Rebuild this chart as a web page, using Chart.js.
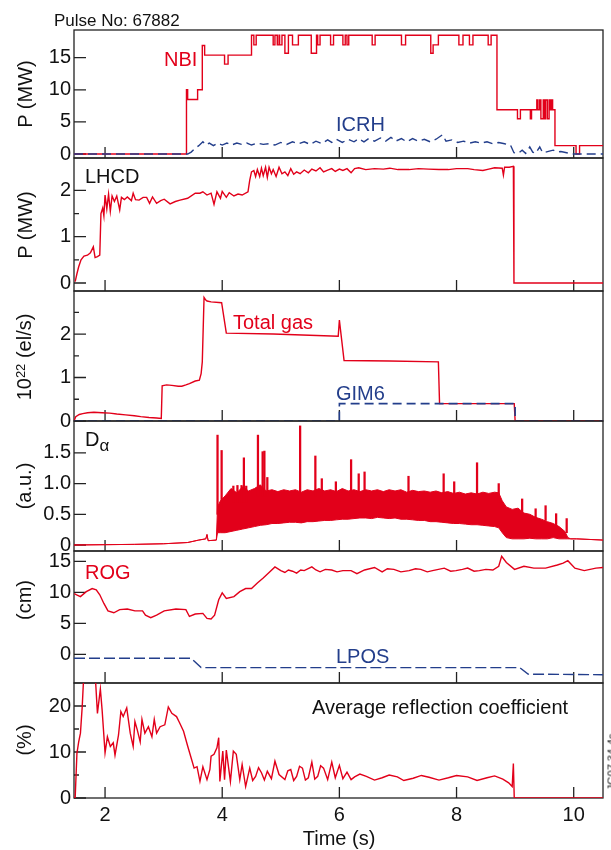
<!DOCTYPE html>
<html lang="en">
<head>
<meta charset="UTF-8">
<title>Pulse No: 67882</title>
<script src="https://cdn.jsdelivr.net/npm/chart.js"></script>
<style>
  html, body { margin: 0; padding: 0; background: #fff; overflow: hidden; }
  #page { position: relative; width: 611px; height: 850px; overflow: hidden;
          font-family: "Liberation Sans", Arial, sans-serif; color: #111; }
  .panel { position: absolute; left: 0; width: 611px; }
  .lbl { position: absolute; font-size: 20px; line-height: 20px; white-space: nowrap; }
  .red { color: #e2001a; }
  .blue { color: #233e8b; }
  .ytitle { position: absolute; font-size: 20px; line-height: 20px; white-space: nowrap;
            transform: translate(-50%, -50%) rotate(-90deg); }
  sup { font-size: 0.65em; vertical-align: 0.5em; line-height: 0; }
  sub { font-size: 0.85em; vertical-align: -0.3em; line-height: 0; }
</style>
</head>
<body>
<div id="page">
  <div class="panel" style="top:16px"><canvas id="c1" width="611" height="156"></canvas></div>
  <div class="panel" style="top:144px"><canvas id="c2" width="611" height="161"></canvas></div>
  <div class="panel" style="top:277px"><canvas id="c3" width="611" height="158"></canvas></div>
  <div class="panel" style="top:407px"><canvas id="c4" width="611" height="158"></canvas></div>
  <div class="panel" style="top:537px"><canvas id="c5" width="611" height="160"></canvas></div>
  <div class="panel" style="top:669px"><canvas id="c6" width="611" height="181"></canvas></div>

  <div class="lbl" style="left:54px; top:12px; font-size:17px; line-height:17px">Pulse No: 67882</div>
  <div class="lbl red" style="left:164px; top:49px">NBI</div>
  <div class="lbl blue" style="left:336px; top:114px">ICRH</div>
  <div class="lbl" style="left:85px; top:166px">LHCD</div>
  <div class="lbl red" style="left:233px; top:312px">Total gas</div>
  <div class="lbl blue" style="left:336px; top:383px">GIM6</div>
  <div class="lbl" style="left:85px; top:429px">D<sub>α</sub></div>
  <div class="lbl red" style="left:85px; top:562px">ROG</div>
  <div class="lbl blue" style="left:336px; top:646px">LPOS</div>
  <div class="lbl" style="left:312px; top:697px">Average reflection coefficient</div>
  <div class="lbl" style="left:339px; top:828px; transform:translateX(-50%)">Time (s)</div>

  <div class="ytitle" style="left:25px; top:94px">P (MW)</div>
  <div class="ytitle" style="left:25px; top:225px">P (MW)</div>
  <div class="ytitle" style="left:24px; top:357px">10<sup>22</sup> (el/s)</div>
  <div class="ytitle" style="left:24px; top:486px">(a.u.)</div>
  <div class="ytitle" style="left:24px; top:600px">(cm)</div>
  <div class="ytitle" style="left:24px; top:740px">(%)</div>
  <div class="ytitle" style="left:612px; top:762px; font-size:11px; line-height:11px">JG07.34-4c</div>
</div>

<script>
  // time axis (s)
  const xMin = 1.47, xMax = 10.5;
  const xTicks = [2, 4, 6, 8, 10];

  // panel 1: heating power (MW)
  const nbi = [[1.47,0],[3.39,10],[3.41,8.5],[3.58,10],[3.66,16.9],[3.70,15.4],[4.04,14.0],[4.10,15.4],
    [4.50,18.5],[4.54,17.0],[4.58,18.5],[4.87,17.0],[4.90,18.5],[4.94,17.0],[4.97,18.5],[4.98,17.0],
    [5.02,18.5],[5.07,15.7],[5.13,18.5],[5.20,17.0],[5.30,18.5],[5.52,15.7],[5.61,18.5],[5.63,17.0],
    [5.67,18.5],[5.85,17.0],[5.90,18.5],[6.06,17.0],[6.10,18.5],[6.13,17.0],[6.16,18.5],[6.56,17.0],
    [6.61,18.5],[7.06,17.0],[7.13,18.5],[7.56,15.7],[7.60,17.0],[7.69,18.5],[8.04,17.0],[8.11,18.5],
    [8.22,17.0],[8.28,18.5],[8.54,17.0],[8.59,18.5],[8.69,6.9],[9.04,5.5],[9.09,6.9],[9.26,5.5],
    [9.28,6.9],[9.37,8.4],[9.39,6.9],[9.42,8.4],[9.44,5.5],[9.48,8.4],[9.50,5.5],[9.52,8.4],[9.55,5.5],
    [9.58,8.4],[9.60,6.9],[9.62,8.4],[9.64,6.9],[9.68,1.3],[10.04,0],[10.10,1.3],[10.5,1.3]];
  const icrh = [[1.47,0],[3.41,0],[3.47,0.3],[3.54,0.9],[3.60,1.3],[3.67,1.9],[3.72,1.4],[3.78,1.7],
    [3.85,1.3],[3.92,1.7],[4.0,1.4],[4.08,1.7],[4.16,1.4],[4.25,1.7],[4.33,1.5],[4.42,1.7],[4.5,1.4],
    [4.6,1.7],[4.7,1.5],[4.8,1.6],[4.9,1.4],[5.0,1.8],[5.1,1.5],[5.2,1.9],[5.3,1.6],[5.4,1.9],[5.5,1.5],
    [5.6,2.0],[5.7,1.6],[5.8,2.2],[5.87,1.8],[5.95,2.3],[6.05,1.8],[6.15,2.3],[6.25,1.9],[6.33,2.4],
    [6.42,1.9],[6.5,2.4],[6.6,2.0],[6.7,2.5],[6.79,2.0],[6.88,2.6],[6.96,2.0],[7.06,2.4],[7.15,1.9],
    [7.25,2.4],[7.35,2.0],[7.45,2.3],[7.55,1.9],[7.65,2.3],[7.76,3.0],[7.82,2.0],[7.92,2.2],[8.02,1.8],
    [8.12,2.0],[8.22,1.7],[8.32,1.9],[8.42,1.7],[8.52,1.9],[8.62,1.6],[8.72,1.8],[8.82,1.6],[8.92,1.4],
    [8.98,0.2],[9.05,0.1],[9.12,0.6],[9.18,0.1],[9.25,1.1],[9.30,0.3],[9.35,0.1],[9.42,1.1],[9.47,0.2],
    [9.52,0.3],[9.6,0.5],[9.65,0.6],[9.72,0.3],[9.78,0.4],[9.88,0.2],[9.98,0.0],[10.5,0.0]];
  const p1TickVals = [0, 5, 10, 15];
  const p1TickText = ['0', '5', '10', '15'];

  // panel 2: LHCD power (MW)
  const lhcd = [[1.49,0.03],[1.52,0.2],[1.55,0.35],[1.59,0.5],[1.64,0.58],[1.70,0.6],[1.75,0.65],
    [1.80,0.78],[1.83,0.55],[1.87,0.57],[1.91,0.6],[1.93,1.5],[1.96,1.62],[1.98,1.45],[2.0,1.9],
    [2.03,1.6],[2.06,1.92],[2.09,1.55],[2.12,1.88],[2.16,1.76],[2.2,1.88],[2.25,1.58],[2.28,1.85],
    [2.33,1.8],[2.38,1.86],[2.45,1.78],[2.48,1.94],[2.52,1.8],[2.58,1.79],[2.65,1.85],[2.71,1.85],
    [2.76,1.72],[2.81,1.86],[2.88,1.72],[2.95,1.78],[3.01,1.81],[3.11,1.71],[3.2,1.76],[3.28,1.79],
    [3.41,1.83],[3.54,1.94],[3.62,1.94],[3.67,1.97],[3.74,1.9],[3.81,1.94],[3.86,1.70],[3.91,1.97],
    [3.97,1.83],[4.0,1.98],[4.07,1.85],[4.12,1.95],[4.2,1.88],[4.27,1.92],[4.34,1.9],[4.44,1.97],
    [4.47,2.22],[4.50,2.40],[4.54,2.43],[4.57,2.3],[4.60,2.45],[4.64,2.3],[4.67,2.48],[4.70,2.32],
    [4.74,2.5],[4.77,2.28],[4.80,2.5],[4.84,2.36],[4.87,2.45],[4.92,2.3],[4.97,2.5],[5.02,2.36],
    [5.07,2.4],[5.12,2.32],[5.17,2.47],[5.22,2.35],[5.27,2.4],[5.33,2.36],[5.40,2.44],[5.47,2.38],
    [5.53,2.46],[5.60,2.42],[5.67,2.49],[5.73,2.4],[5.80,2.44],[5.87,2.47],[5.93,2.41],[6.0,2.46],
    [6.06,2.43],[6.13,2.47],[6.2,2.38],[6.26,2.47],[6.33,2.49],[6.45,2.45],[6.6,2.47],[6.75,2.46],
    [6.86,2.48],[7.0,2.45],[7.19,2.45],[7.35,2.47],[7.52,2.46],[7.7,2.45],[7.86,2.45],[8.0,2.47],
    [8.19,2.47],[8.3,2.45],[8.45,2.43],[8.55,2.46],[8.65,2.49],[8.78,2.48],[8.80,2.33],[8.82,2.5],
    [8.9,2.5],[8.97,2.52],[8.98,0],[10.5,0]];
  const p2TickVals = [0, 0.5, 1, 1.5, 2];
  const p2TickText = ['0', '', '1', '', '2'];

  // panel 3: gas injection (10^22 el/s)
  const totalGas = [[1.47,0],[1.5,0.1],[1.56,0.15],[1.62,0.17],[1.7,0.19],[1.81,0.2],[1.95,0.19],
    [2.08,0.18],[2.2,0.16],[2.35,0.14],[2.5,0.12],[2.61,0.1],[2.75,0.08],[2.88,0.07],[2.96,0.06],
    [2.975,0.81],[3.05,0.83],[3.14,0.82],[3.25,0.8],[3.31,0.8],[3.38,0.83],[3.44,0.86],[3.54,0.92],
    [3.61,0.94],[3.64,1.09],[3.66,1.36],[3.69,2.84],[3.72,2.78],[3.74,2.76],[3.81,2.74],[3.99,2.72],
    [4.07,2.02],[4.87,2.0],[5.98,1.95],[6.0,2.32],[6.08,1.39],[6.86,1.38],[7.69,1.36],[7.71,0.40],
    [8.985,0.40],[9.0,0],[10.5,0]];
  const gim6 = [[1.47,0],[6.0,0],[6.0,0.4],[9.0,0.4],[9.0,0],[10.5,0]];
  const p3TickVals = [0, 0.5, 1, 1.5, 2, 2.5];
  const p3TickText = ['0', '', '1', '', '2', ''];

  // panel 4: D-alpha (a.u.), band as [t, low, high] plus ELM spikes [t, base, peak]
  const daBand = [[1.47,0,0],[2.0,0.005,0.005],[2.5,0.01,0.01],[3.0,0.02,0.02],[3.41,0.04,0.04],
    [3.6,0.08,0.08],[3.72,0.1,0.1],[3.74,0.17,0.17],[3.76,0.07,0.07],[3.9,0.08,0.08],
    [3.92,0.2,0.62],[3.97,0.2,0.72],[4.05,0.2,0.80],[4.15,0.22,0.92],[4.25,0.24,0.85],[4.35,0.26,0.95],
    [4.45,0.28,0.88],[4.55,0.3,0.92],[4.65,0.32,0.98],[4.75,0.33,0.88],[4.85,0.35,0.9],[4.95,0.35,0.87],
    [5.05,0.36,0.9],[5.15,0.37,0.88],[5.25,0.37,0.9],[5.35,0.36,0.86],[5.45,0.38,0.9],[5.55,0.38,0.88],
    [5.65,0.39,0.92],[5.75,0.4,0.88],[5.85,0.4,0.9],[5.95,0.41,0.87],[6.05,0.42,0.92],[6.15,0.42,0.88],
    [6.25,0.43,0.9],[6.35,0.44,0.87],[6.45,0.44,0.9],[6.55,0.43,0.88],[6.65,0.45,0.9],[6.75,0.44,0.87],
    [6.85,0.43,0.9],[6.95,0.44,0.88],[7.05,0.42,0.9],[7.15,0.42,0.86],[7.25,0.41,0.89],[7.35,0.4,0.87],
    [7.45,0.4,0.88],[7.55,0.38,0.86],[7.65,0.38,0.88],[7.75,0.37,0.85],[7.85,0.36,0.87],[7.95,0.35,0.84],
    [8.05,0.35,0.86],[8.15,0.34,0.83],[8.25,0.33,0.85],[8.35,0.33,0.83],[8.45,0.32,0.86],[8.55,0.31,0.84],
    [8.65,0.3,0.86],[8.72,0.28,0.85],[8.78,0.2,0.72],[8.85,0.12,0.62],[8.95,0.1,0.58],[9.05,0.1,0.6],
    [9.15,0.1,0.52],[9.25,0.11,0.5],[9.35,0.1,0.45],[9.45,0.1,0.42],[9.55,0.1,0.38],[9.65,0.12,0.35],
    [9.75,0.1,0.3],[9.85,0.1,0.22],[9.90,0.1,0.12],[9.95,0.1,0.1],[10.05,0.1,0.1],[10.5,0.08,0.08]];
  const daSpikes = [[3.92,0.5,1.79],[3.99,0.6,1.54],[4.19,0.7,0.96],[4.26,0.7,0.97],[4.33,0.7,0.97],
    [4.37,0.7,1.42],[4.41,0.7,0.96],[4.61,0.8,1.79],[4.69,0.8,1.52],[4.72,0.8,1.53],[4.77,0.8,1.10],
    [5.33,0.8,1.94],[5.59,0.8,1.45],[5.70,0.8,1.08],[5.94,0.8,1.03],[6.20,0.8,1.39],[6.33,0.8,1.16],
    [6.43,0.8,1.19],[7.18,0.8,1.12],[7.78,0.8,1.16],[7.96,0.8,1.03],[8.35,0.8,1.34],[8.72,0.7,1.0],
    [9.12,0.5,0.75],[9.35,0.4,0.59],[9.52,0.4,0.64],[9.70,0.3,0.51],[9.88,0.2,0.43]];
  const p4TickVals = [0, 0.5, 1, 1.5];
  const p4TickText = ['0', '0.5', '1.0', '1.5'];

  // panel 5: plasma-wall gaps (cm)
  const rog = [[1.475,9.8],[1.515,9.6],[1.58,9.3],[1.68,10.1],[1.78,10.6],[1.85,10.4],[1.91,9.6],
    [1.98,8.2],[2.05,7.0],[2.15,6.7],[2.25,7.2],[2.38,7.3],[2.51,7.0],[2.64,7.0],[2.69,6.3],[2.78,5.9],
    [2.88,6.3],[3.01,7.0],[3.21,7.3],[3.38,7.2],[3.44,6.1],[3.54,6.5],[3.67,6.6],[3.74,5.8],[3.81,5.7],
    [3.87,6.3],[3.94,8.8],[4.0,9.9],[4.07,9.0],[4.2,9.3],[4.3,10.1],[4.4,10.6],[4.5,10.6],[4.6,11.5],
    [4.7,12.3],[4.8,13.2],[4.9,14.1],[5.0,13.5],[5.07,13.2],[5.13,13.6],[5.2,13.4],[5.27,13.1],
    [5.34,13.6],[5.4,13.5],[5.53,14.1],[5.6,13.6],[5.67,13.3],[5.76,13.7],[5.87,13.6],[5.96,13.3],
    [6.06,13.5],[6.2,13.5],[6.3,13.0],[6.43,13.6],[6.6,14.0],[6.73,13.3],[6.82,13.8],[6.93,13.7],
    [7.05,13.3],[7.19,13.5],[7.3,13.8],[7.39,13.7],[7.5,13.3],[7.59,13.5],[7.79,13.9],[7.9,13.4],
    [7.99,13.5],[8.1,13.7],[8.19,13.9],[8.3,13.4],[8.39,13.5],[8.5,13.7],[8.62,13.6],[8.72,14.2],
    [8.77,15.8],[8.85,14.8],[8.99,13.7],[9.15,14.2],[9.32,13.9],[9.52,13.9],[9.72,14.4],[9.82,14.7],
    [9.9,15.1],[10.02,13.9],[10.18,13.5],[10.38,13.9],[10.5,14.0]];
  const lpos = [[1.47,-0.65],[3.47,-0.65],[3.64,-2.15],[9.08,-2.15],[9.22,-3.2],[10.5,-3.3]];
  const p5TickVals = [0, 5, 10, 15];
  const p5TickText = ['0', '5', '10', '15'];

  // panel 6: average reflection coefficient (%)
  const refl = [[1.47,0],[1.49,0],[1.52,9.7],[1.55,12.2],[1.58,14.1],[1.61,19.8],[1.63,25],[1.68,28],
    [1.76,28],[1.84,25],[1.87,18.4],[1.92,23.7],[1.95,19.1],[2.00,9.8],[2.04,13.3],[2.09,11.2],
    [2.14,12.0],[2.17,9.3],[2.23,13.7],[2.27,18.8],[2.31,17.7],[2.37,19.6],[2.43,14.1],[2.48,11.2],
    [2.51,16.6],[2.55,14.8],[2.60,12.2],[2.63,17.1],[2.68,14.1],[2.74,15.5],[2.80,13.3],[2.84,17.1],
    [2.88,14.1],[2.94,15.5],[3.02,15.9],[3.08,19.8],[3.14,18.4],[3.22,17.7],[3.27,16.4],[3.34,14.5],
    [3.41,11.3],[3.47,8.7],[3.52,6.5],[3.57,6.8],[3.62,3.6],[3.67,6.8],[3.74,4.0],[3.79,6.2],
    [3.81,9.1],[3.86,9.5],[3.91,10.9],[3.94,13.1],[3.96,3.6],[4.01,10.2],[4.04,4.0],[4.07,10.4],
    [4.14,3.6],[4.19,10.2],[4.24,9.5],[4.30,4.0],[4.34,7.3],[4.40,2.5],[4.47,6.5],[4.52,3.8],
    [4.57,4.7],[4.62,6.6],[4.67,5.5],[4.72,3.9],[4.77,5.8],[4.84,4.2],[4.90,8.0],[4.97,5.1],[5.07,4.0],
    [5.12,5.9],[5.17,6.2],[5.22,3.8],[5.27,4.7],[5.32,6.9],[5.37,6.5],[5.42,3.9],[5.47,4.4],[5.53,7.8],
    [5.58,4.1],[5.63,4.7],[5.68,7.0],[5.73,6.5],[5.8,4.0],[5.87,7.8],[5.93,4.4],[6.00,7.1],[6.06,4.2],
    [6.13,5.6],[6.2,4.0],[6.26,4.6],[6.35,5.2],[6.46,4.7],[6.6,3.9],[6.73,4.4],[6.85,5.0],[6.99,4.6],
    [7.1,3.8],[7.26,4.3],[7.4,4.9],[7.53,4.5],[7.7,3.9],[7.86,4.4],[8.0,4.9],[8.19,4.6],[8.35,3.8],
    [8.52,4.4],[8.65,4.8],[8.79,4.1],[8.89,3.3],[8.95,2.5],[8.97,7.5],[8.985,0],[10.5,0]];
  const p6TickVals = [0, 5, 10, 15, 20];
  const p6TickText = ['0', '', '10', '', '20'];

  const RED = '#e2001a';
  const BLUE = '#233e8b';
  const PAD = 14;

  Chart.defaults.font.family = '"Liberation Sans", Arial, Helvetica, sans-serif';
  Chart.defaults.color = '#111';

  const pts = arr => arr.map(p => ({x: p[0], y: p[1]}));

  function line(data, color, extra) {
    return Object.assign({data: pts(data), borderColor: color, borderWidth: 1.4,
      pointRadius: 0, tension: 0, fill: false}, extra || {});
  }

  function makePanel(id, yMin, yMax, tickVals, tickText, datasets, showX) {
    const frame = {
      id: 'frame',
      beforeDatasetsDraw(chart) {
        const {ctx, chartArea: a} = chart;
        const x = chart.scales.x, y = chart.scales.y;
        ctx.save();
        ctx.strokeStyle = '#222';
        ctx.lineWidth = 1.3;
        ctx.strokeRect(a.left, a.top, a.right - a.left, a.bottom - a.top);
        ctx.beginPath();
        xTicks.forEach(v => {
          const px = x.getPixelForValue(v);
          ctx.moveTo(px, a.bottom);
          ctx.lineTo(px, a.bottom - 11);
        });
        tickVals.forEach((v, i) => {
          const py = y.getPixelForValue(v);
          ctx.moveTo(a.left, py);
          ctx.lineTo(a.left + (tickText[i] ? 12 : 5), py);
        });
        ctx.stroke();
        ctx.restore();
      }
    };

    return new Chart(document.getElementById(id), {
      type: 'line',
      data: {datasets: datasets},
      options: {
        responsive: false,
        animation: false,
        layout: {padding: {left: 0, right: 8, top: PAD, bottom: showX ? 0 : PAD}},
        plugins: {legend: {display: false}, tooltip: {enabled: false}},
        scales: {
          x: {
            type: 'linear', min: xMin, max: xMax, display: showX, offset: false,
            grid: {display: false, drawTicks: false}, border: {display: false},
            afterBuildTicks: s => { s.ticks = xTicks.map(v => ({value: v})); },
            afterFit: s => { s.height = showX ? 52 : 0; s.paddingLeft = 0; s.paddingRight = 0; },
            ticks: {padding: 5, font: {size: 20}, maxRotation: 0, autoSkip: false}
          },
          y: {
            min: yMin, max: yMax,
            grid: {display: false, drawTicks: false}, border: {display: false},
            afterBuildTicks: s => { s.ticks = tickVals.map(v => ({value: v})); },
            afterFit: s => { s.width = 74; s.paddingTop = 0; s.paddingBottom = 0; },
            ticks: {padding: 3, font: {size: 20}, autoSkip: false, callback: (v, i) => tickText[i]}
          }
        }
      },
      plugins: [frame]
    });
  }

  makePanel('c1', -0.62, 19.31, p1TickVals, p1TickText, [
    line(icrh, BLUE, {borderDash: [9, 5]}),
    line(nbi, RED, {stepped: true})
  ], false);

  makePanel('c2', -0.173, 2.70, p2TickVals, p2TickText, [
    line(lhcd, RED)
  ], false);

  makePanel('c3', 0, 2.99, p3TickVals, p3TickText, [
    line(gim6, BLUE, {borderDash: [9, 5], borderWidth: 1.6}),
    line(totalGas, RED)
  ], false);

  makePanel('c4', -0.098, 2.02, p4TickVals, p4TickText, [
    {type: 'bar', data: daSpikes.map(s => ({x: s[0], y: [s[1], s[2]]})),
     backgroundColor: RED, borderWidth: 0, barThickness: 1.6, grouped: false},
    line(daBand.map(b => [b[0], b[1]]), RED, {borderWidth: 1}),
    line(daBand.map(b => [b[0], b[2]]), RED, {borderWidth: 1, fill: '-1', backgroundColor: RED})
  ], false);

  makePanel('c5', -4.63, 16.66, p5TickVals, p5TickText, [
    line(lpos, BLUE, {borderDash: [11, 4]}),
    line(rog, RED)
  ], false);

  makePanel('c6', 0, 25.0, p6TickVals, p6TickText, [
    line(refl, RED)
  ], true);
</script>
</body>
</html>
